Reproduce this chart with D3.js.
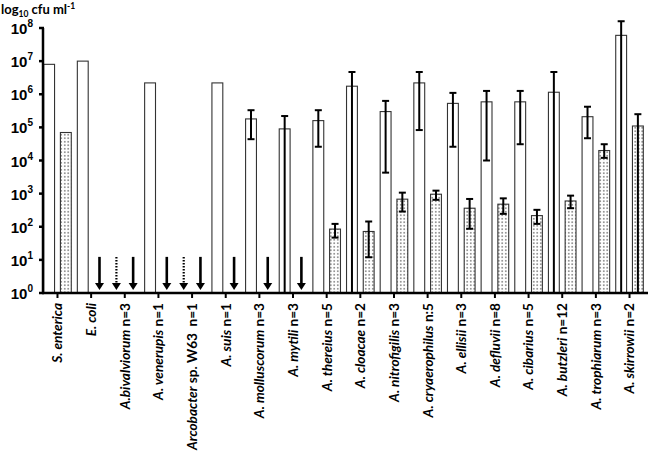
<!DOCTYPE html>
<html>
<head>
<meta charset="utf-8">
<script src="https://cdn.jsdelivr.net/npm/d3@7"></script>
<style>
  html, body { margin: 0; padding: 0; background: #fff; }
  svg { display: block; }
</style>
</head>
<body>
<svg id="chart" width="650" height="457"></svg>
<script>
// ---- data ----
const speciesNames = ["S. enterica", "E. coli", "A.bivalviorum", "A. venerupis", "Arcobacter",
  "A. suis", "A. molluscorum", "A. mytili", "A. thereius", "A. cloacae", "A. nitrofigilis",
  "A. cryaerophilus", "A. ellisii", "A. defluvii", "A. cibarius", "A. butzleri", "A. trophiarum", "A. skirrowii"];
const nLabels = ["", "", " n=3", " n=1", " sp. W63  n=1", " n=1", " n=3", " n=3", " n=5", " n=2", " n=3",
  " n:5", " n=3", " n=8", " n=5", " n=12", " n=3", " n=2"];

// open bars (series 1)
const openValues = [8e6, 1e7, null, 2.2e6, null, 2.2e6, 1.8e5, 9e4, 1.6e5, 1.75e6, 3e5, 2.2e6, 5.3e5, 5.9e5, 5.9e5, 1.15e6, 2.1e5, 6e7];
const openLow  = [null, null, null, null, null, null, 4.4e4, 1, 2.6e4, 1, 4.3e3, 8.3e4, 2.6e4, 1e4, 3.1e4, 1, 4.7e4, 1];
const openHigh = [null, null, null, null, null, null, 3.3e5, 2.2e5, 3.3e5, 4.7e6, 6.3e5, 4.7e6, 1.1e6, 1.26e6, 1.26e6, 4.7e6, 4.2e5, 1.6e8];

// dotted bars (series 2)
const dotValues = [7e4, null, null, null, null, null, null, null, 85, 72, 680, 960, 363, 480, 217, 600, 2e4, 1.1e5];
const dotLow  = [null, null, null, null, null, null, null, null, 47, 12, 288, 650, 87, 245, 122, 363, 1.2e4, 1];
const dotHigh = [null, null, null, null, null, null, null, null, 122, 144, 1070, 1230, 690, 720, 324, 870, 3.1e4, 2.5e5];

// below-detection arrows: solid for dotted series, dashed for open series
const solidArrowIdx = [1, 2, 3, 4, 5, 6, 7];
const dashedArrowIdx = [2, 4];

const yTickExps = [0, 1, 2, 3, 4, 5, 6, 7, 8];

// ---- layout ----
const svg = d3.select("#chart");
const axisX = 43, axisY = 293, topY = 28, rightX = 648;

const x = d3.scaleBand().domain(d3.range(speciesNames.length)).range([42, 645])
  .paddingInner(0.18).paddingOuter(0.05);
const sub = d3.scaleBand().domain(["open", "dot"]).range([0, x.bandwidth()]).paddingInner(0.35);
const y = d3.scaleLog().domain([1, 1e8]).range([axisY, topY]);

// pattern
const defs = svg.append("defs");
const pat = defs.append("pattern").attr("id", "dots").attr("patternUnits", "userSpaceOnUse")
  .attr("width", 3.5).attr("height", 3.5);
pat.append("rect").attr("width", 3.5).attr("height", 3.5).attr("fill", "#fff");
pat.append("rect").attr("x", 1).attr("y", 1).attr("width", 1.5).attr("height", 1.5).attr("fill", "#707070");

const g = svg.append("g");

// open bars
const openData = openValues.map((v, i) => ({i, v, lo: openLow[i], hi: openHigh[i]})).filter(d => d.v != null);
g.selectAll("rect.open").data(openData).enter().append("rect")
  .attr("x", d => x(d.i) + sub("open"))
  .attr("width", sub.bandwidth())
  .attr("y", d => y(d.v))
  .attr("height", d => y(1) - y(d.v))
  .attr("fill", "#fff").attr("stroke", "#333").attr("stroke-width", 1.1);

const dotData = dotValues.map((v, i) => ({i, v, lo: dotLow[i], hi: dotHigh[i]})).filter(d => d.v != null);
g.selectAll("rect.dot").data(dotData).enter().append("rect")
  .attr("x", d => x(d.i) + sub("dot"))
  .attr("width", sub.bandwidth())
  .attr("y", d => y(d.v))
  .attr("height", d => y(1) - y(d.v))
  .attr("fill", "url(#dots)").attr("stroke", "#333").attr("stroke-width", 1.1);

// error bars
function errorBars(data, key) {
  const eb = data.filter(d => d.hi != null);
  eb.forEach(d => {
    const cx = x(d.i) + sub(key) + sub.bandwidth() / 2;
    g.append("line").attr("x1", cx).attr("x2", cx).attr("y1", y(d.hi)).attr("y2", y(d.lo))
      .attr("stroke", "#000").attr("stroke-width", 2);
    g.append("line").attr("x1", cx - 3.5).attr("x2", cx + 3.5).attr("y1", y(d.hi)).attr("y2", y(d.hi))
      .attr("stroke", "#000").attr("stroke-width", 2);
    if (d.lo > 1) {
      g.append("line").attr("x1", cx - 3.5).attr("x2", cx + 3.5).attr("y1", y(d.lo)).attr("y2", y(d.lo))
        .attr("stroke", "#000").attr("stroke-width", 2);
    }
  });
}
errorBars(openData, "open");
errorBars(dotData, "dot");

// arrows
function arrow(i, key, dashed) {
  const cx = x(i) + sub(key) + sub.bandwidth() / 2;
  const y0 = y(10) - 3, tip = axisY - 3, headH = 7, headW = 4.5;
  g.append("line").attr("x1", cx).attr("x2", cx).attr("y1", y0).attr("y2", tip - headH + 1)
    .attr("stroke", "#000").attr("stroke-width", dashed ? 2.2 : 2.6)
    .attr("stroke-dasharray", dashed ? "1.6,1.4" : null);
  g.append("path")
    .attr("d", `M${cx - headW},${tip - headH} L${cx + headW},${tip - headH} L${cx},${tip} Z`)
    .attr("fill", "#000");
}
solidArrowIdx.forEach(i => arrow(i, "dot", false));
dashedArrowIdx.forEach(i => arrow(i, "open", true));

// axes lines
svg.append("line").attr("x1", axisX).attr("x2", axisX).attr("y1", topY).attr("y2", axisY + 1)
  .attr("stroke", "#000").attr("stroke-width", 2.5);
svg.append("line").attr("x1", axisX - 1).attr("x2", rightX).attr("y1", axisY).attr("y2", axisY)
  .attr("stroke", "#000").attr("stroke-width", 2.5);

// y ticks and labels
yTickExps.forEach(e => {
  const yy = y(Math.pow(10, e));
  svg.append("line").attr("x1", axisX - 4).attr("x2", axisX + 1).attr("y1", yy).attr("y2", yy)
    .attr("stroke", "#000").attr("stroke-width", 2.5);
  const t = svg.append("text").attr("x", 33).attr("y", yy + 6).attr("text-anchor", "end")
    .attr("font-family", "Liberation Sans, Arial, sans-serif").attr("font-weight", "bold")
    .attr("font-size", 15).attr("fill", "#000");
  t.append("tspan").text("10");
  t.append("tspan").attr("font-size", 10).attr("dy", -7).text(e);
});

// x ticks
speciesNames.forEach((s, i) => {
  const cx = x(i) + x.bandwidth() / 2;
  svg.append("line").attr("x1", cx).attr("x2", cx).attr("y1", axisY).attr("y2", axisY + 5)
    .attr("stroke", "#000").attr("stroke-width", 2);
  const t = svg.append("text")
    .attr("transform", `translate(${cx},${axisY + 10}) rotate(-90)`)
    .attr("text-anchor", "end").attr("dy", "0.36em")
    .attr("font-family", "Lato, 'Open Sans', sans-serif").attr("font-weight", "bold")
    .attr("font-size", 13.6).attr("fill", "#000");
  t.append("tspan").attr("font-style", "italic").text(s);
  if (nLabels[i]) t.append("tspan").attr("xml:space", "preserve").text(nLabels[i]);
});

// y axis title
const title = svg.append("text").attr("x", 1).attr("y", 14)
  .attr("font-family", "Lato, 'Open Sans', sans-serif").attr("font-weight", "bold")
  .attr("font-size", 13).attr("fill", "#000");
title.append("tspan").text("log");
title.append("tspan").attr("font-size", 8.5).attr("dy", 3).text("10");
title.append("tspan").attr("dy", -3).text(" cfu ml");
title.append("tspan").attr("font-size", 8.5).attr("dy", -5).text("-1");
</script>
</body>
</html>
